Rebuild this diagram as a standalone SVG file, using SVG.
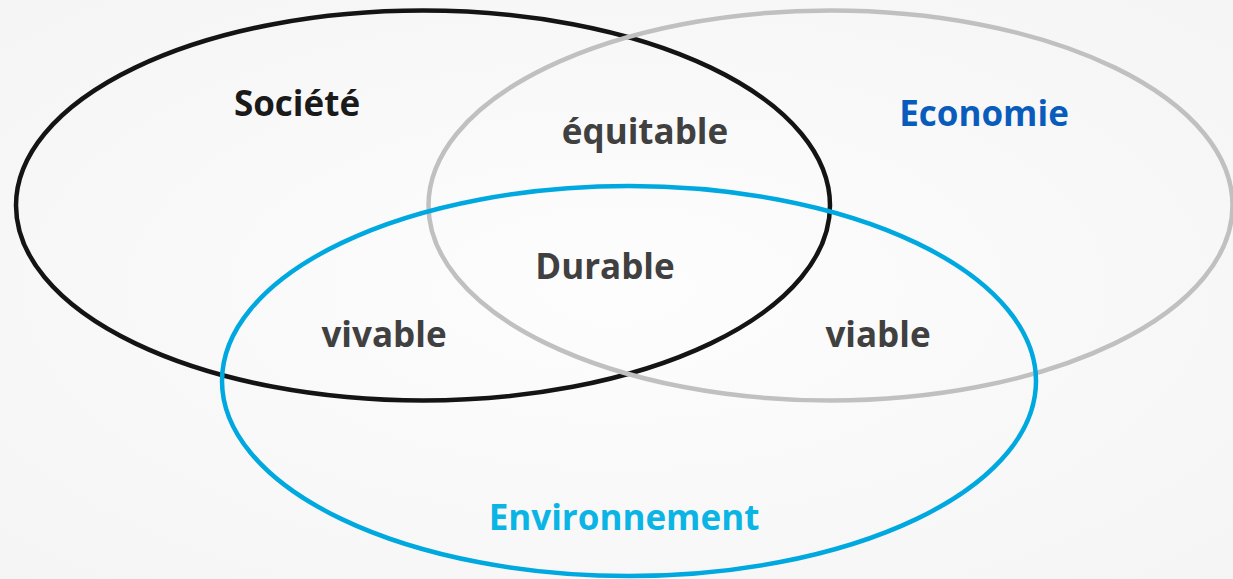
<svg xmlns="http://www.w3.org/2000/svg" width="1233" height="579" viewBox="0 0 1233 579">
<defs>
<radialGradient id="bg" cx="50%" cy="50%" r="75%">
<stop offset="0" stop-color="#fdfdfd"/>
<stop offset="1" stop-color="#f4f4f4"/>
</radialGradient>
</defs>
<style>
.e{fill:none;stroke-width:4.5}
.t{font-family:"Open Sans","Liberation Sans",sans-serif;font-weight:bold;font-size:35px;text-anchor:middle}
.g{fill:#404040}
</style>
<rect width="1233" height="579" fill="url(#bg)"/>
<g id="societe"><ellipse class="e" cx="423" cy="205.5" rx="407" ry="195" stroke="#141414" stroke-width="5"/><text class="t" x="297" y="116" fill="#1a1a1a">Société</text></g>
<g id="economie"><ellipse class="e" cx="830.5" cy="205.5" rx="402" ry="195" stroke="#c0c0c0"/><text class="t" x="984" y="126" fill="#0a5cbc">Economie</text></g>
<g id="environnement"><ellipse class="e" cx="629" cy="381" rx="407" ry="195" stroke="#00a8e0"/><text class="t" x="624" y="530" fill="#0ab4e4">Environnement</text></g>
<g id="equitable"><text class="t g" x="645" y="144">équitable</text></g>
<g id="durable"><text class="t g" x="605" y="279">Durable</text></g>
<g id="vivable"><text class="t g" x="384" y="347">vivable</text></g>
<g id="viable"><text class="t g" x="878" y="347">viable</text></g>
<g id="connectors"/>
</svg>
